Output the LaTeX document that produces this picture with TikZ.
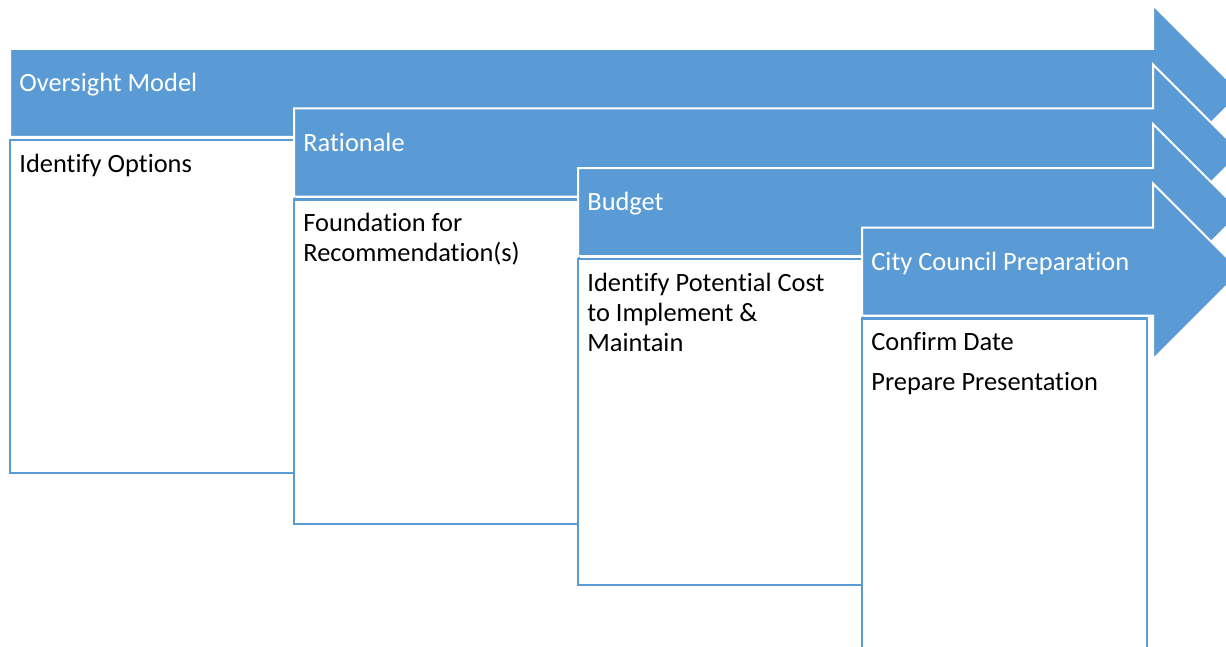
\documentclass[tikz,border=0pt]{standalone}
\usepackage{fontspec}
\setmainfont{Carlito}[Ligatures=CommonOff]
\usetikzlibrary{positioning}
\definecolor{phaseblue}{HTML}{5B9BD5}

\begin{document}
\begin{tikzpicture}[x=0.5pt, y=-0.5pt]
  \tikzstyle{phase} = [fill=phaseblue, draw=white, line width=1pt]
  \tikzstyle{taskbox} = [fill=white, draw=phaseblue, line width=1.3pt]
  \tikzstyle{title} = [anchor=base west, inner sep=0pt, text=white, font=\fontsize{13.2}{15}\selectfont]
  \tikzstyle{items} = [anchor=base west, inner sep=0pt, text width=135pt, align=flush left, font=\fontsize{13.2}{15}\selectfont]

  \useasboundingbox (0,0) rectangle (1226,647);
  \clip (0,0) rectangle (1226,647);

  % one arrow and its task box per phase, left to right
  \foreach \i/\name/\tasks/\boxbot in {%
      0/Oversight Model/{Identify Options}/473,
      1/Rationale/{Foundation for\\Recommendation(s)}/524,
      2/Budget/{Identify Potential Cost\\to Implement \&\\Maintain}/585,
      3/City Council Preparation/{Confirm Date\\[5pt]Prepare Presentation}/670} {
    \pgfmathsetmacro\xl{10+284*\i}
    \pgfmathsetmacro\yt{49+59.5*\i}
    \filldraw [phase] (\xl,\yt) -- (1153,\yt) -- (1153,\yt-44) -- (1241,\yt+44)
      -- (1153,\yt+132) -- (1153,\yt+88) -- (\xl,\yt+88) -- cycle;
    \node [title] (ttl\i) at (\xl+9,\yt+42.5) {\name};
    \filldraw [taskbox] (\xl,\yt+91) rectangle (\xl+285,\boxbot);
    \node [items] (txt\i) at (\xl+9,\yt+123) {\tasks};
  }
\end{tikzpicture}
\end{document}
